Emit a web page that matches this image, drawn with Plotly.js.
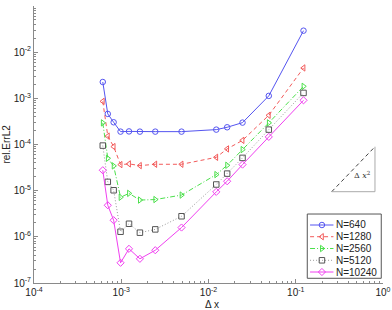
<!DOCTYPE html>
<html>
<head>
<meta charset="utf-8">
<script src="https://cdn.plot.ly/plotly-3.0.1.min.js"></script>
<style>html,body{margin:0;padding:0;background:#fff;}#chart{width:392px;height:310px;}</style>
</head>
<body>
<div id="chart"></div>
<script>
// Data
const dx = [6.14e-4, 7.01e-4, 8.18e-4, 9.82e-4, 1.227e-3, 1.636e-3, 2.454e-3, 4.909e-3, 1.227e-2, 1.636e-2, 2.454e-2, 4.909e-2, 1.227e-1];
const err640   = [2.26e-3, 4.6e-4, 3.03e-4, 1.9e-4, 1.92e-4, 1.9e-4, 1.9e-4, 1.9e-4, 2.1e-4, 2.36e-4, 2.98e-4, 1.13e-3, 2.92e-2];
const err1280  = [8.6e-4, 1.52e-4, 9.0e-5, 3.67e-5, 3.8e-5, 3.49e-5, 3.73e-5, 3.73e-5, 5.28e-5, 8.03e-5, 1.23e-4, 4.29e-4, 4.55e-3];
const err2560  = [2.94e-4, 5.03e-5, 3.44e-5, 7.2e-6, 8.74e-6, 6.26e-6, 6.42e-6, 8.03e-6, 2.23e-5, 3.55e-5, 7.76e-5, 2.94e-4, 1.82e-3];
const err5120  = [9.47e-5, 1.55e-5, 1.02e-5, 1.29e-6, 1.92e-6, 1.23e-6, 1.45e-6, 2.79e-6, 1.36e-5, 2.34e-5, 5.13e-5, 2.1e-4, 1.31e-3];
const err10240 = [2.77e-5, 4.83e-6, 2.29e-6, 2.74e-7, 5.5e-7, 3.34e-7, 5.13e-7, 1.59e-6, 9.42e-6, 1.6e-5, 3.67e-5, 1.46e-4, 9.06e-4];
const seriesNames = ["N=640", "N=1280", "N=2560", "N=5120", "N=10240"];
const xTickVals = [1e-4, 1e-3, 1e-2, 1e-1, 1e0];
const xTickText = ["10<sup>-4</sup>", "10<sup>-3</sup>", "10<sup>-2</sup>", "10<sup>-1</sup>", "10<sup>0</sup>"];
const yTickVals = [1e-7, 1e-6, 1e-5, 1e-4, 1e-3, 1e-2, 1e-1];
const yTickText = ["10<sup>-7</sup>", "10<sup>-6</sup>", "10<sup>-5</sup>", "10<sup>-4</sup>", "10<sup>-3</sup>", "10<sup>-2</sup>", "10<sup>-1</sup>"];

const allErr = [err640, err1280, err2560, err5120, err10240];
const styles = [
  {color: "#5555f0", mcolor: "#5555f0", dash: "solid", symbol: "circle-open"},
  {color: "#f25a5a", mcolor: "#f25a5a", dash: "4px,3px", symbol: "triangle-left-open"},
  {color: "#4ce04c", mcolor: "#4ce04c", dash: "5px,2px,1px,2px", symbol: "triangle-right-open"},
  {color: "#9a9a9a", mcolor: "#555555", dash: "1px,2px", symbol: "square-open"},
  {color: "#f040f0", mcolor: "#f040f0", dash: "solid", symbol: "diamond-open"}
];

const traces = [];
allErr.forEach((ys, i) => {
  const s = styles[i];
  traces.push({
    x: dx, y: ys, type: "scatter", mode: "lines+markers", name: seriesNames[i],
    showlegend: false,
    line: {color: s.color, width: 1, dash: s.dash},
    marker: {symbol: s.symbol, size: 5.5, color: s.mcolor, line: {width: 1, color: s.mcolor}}
  });
});

// Manual legend (drawn on an overlay axis with 0..1 range)
const legX0 = 0.791, legX1 = 0.858, legXm = 0.825, legTextX = 0.862;
const legY = [0.2094, 0.1671, 0.1245, 0.0819, 0.0397];
const annotations = [];
seriesNames.forEach((nm, i) => {
  const s = styles[i];
  traces.push({
    x: [legX0, legX1], y: [legY[i], legY[i]], xaxis: "x2", yaxis: "y2",
    type: "scatter", mode: "lines", showlegend: false, hoverinfo: "skip",
    line: {color: s.color, width: 1, dash: s.dash}
  });
  traces.push({
    x: [legXm], y: [legY[i]], xaxis: "x2", yaxis: "y2",
    type: "scatter", mode: "markers", showlegend: false, hoverinfo: "skip",
    marker: {symbol: s.symbol, size: 5.5, color: s.mcolor, line: {width: 1, color: s.mcolor}}
  });
  annotations.push({
    xref: "paper", yref: "paper", x: legTextX, y: legY[i], xanchor: "left", yanchor: "middle",
    text: nm, showarrow: false, borderpad: 0, font: {size: 10, color: "#222"}
  });
});

annotations.push({
  xref: "paper", yref: "paper", x: 0.51, y: -0.076, xanchor: "center", yanchor: "middle",
  text: "Δ x", showarrow: false, borderpad: 0, font: {size: 10, color: "#222"}
});
annotations.push({
  xref: "paper", yref: "paper", x: -0.08, y: 0.5, xanchor: "center", yanchor: "middle",
  text: "rel.ErrL2", textangle: -90, showarrow: false, borderpad: 0, font: {size: 10, color: "#222"}
});
annotations.push({
  xref: "paper", yref: "paper", x: 0.94, y: 0.39, xanchor: "center", yanchor: "middle",
  text: "Δ <i>x</i><sup>2</sup>", showarrow: false, borderpad: 0, font: {size: 8, color: "#333", family: "DejaVu Serif"}
});

const shapes = [
  {type: "rect", xref: "paper", yref: "paper", x0: 0.783, x1: 0.995, y0: 0.017, y1: 0.249,
   line: {color: "#555", width: 1}, fillcolor: "rgba(255,255,255,0)"},
  {type: "line", xref: "paper", yref: "paper", x0: 0.853, y0: 0.3296, x1: 0.977, y1: 0.492,
   line: {color: "#444", width: 1, dash: "4px,3px"}},
  {type: "line", xref: "paper", yref: "paper", x0: 0.853, y0: 0.3296, x1: 0.977, y1: 0.3296,
   line: {color: "#aaa", width: 1}},
  {type: "line", xref: "paper", yref: "paper", x0: 0.977, y0: 0.3296, x1: 0.977, y1: 0.492,
   line: {color: "#aaa", width: 1}}
];

const axisCommon = {
  showgrid: false, zeroline: false, showline: true, linecolor: "#8a8a8a", linewidth: 1,
  ticks: "inside", ticklen: 4, tickcolor: "#8a8a8a", tickwidth: 1,
  tickfont: {size: 10, color: "#222"}, automargin: false,
  minor: {ticks: "inside", ticklen: 2, tickcolor: "#8a8a8a", dtick: "D1", showgrid: false}
};

const layout = {
  width: 392, height: 310,
  margin: {l: 34, r: 9, t: 6, b: 27},
  paper_bgcolor: "#fff", plot_bgcolor: "#fff",
  font: {family: "Liberation Sans, Arial, sans-serif", size: 10, color: "#222"},
  showlegend: false,
  xaxis: Object.assign({}, axisCommon, {type: "log", range: [-4, 0], tickvals: xTickVals, ticktext: xTickText}),
  yaxis: Object.assign({}, axisCommon, {type: "log", range: [-7, -1], tickvals: yTickVals, ticktext: yTickText}),
  xaxis2: {overlaying: "x", range: [0, 1], visible: false, fixedrange: true},
  yaxis2: {overlaying: "y", range: [0, 1], visible: false, fixedrange: true},
  annotations: annotations,
  shapes: shapes
};

Plotly.newPlot("chart", traces, layout, {staticPlot: true, displayModeBar: false});
</script>
</body>
</html>
